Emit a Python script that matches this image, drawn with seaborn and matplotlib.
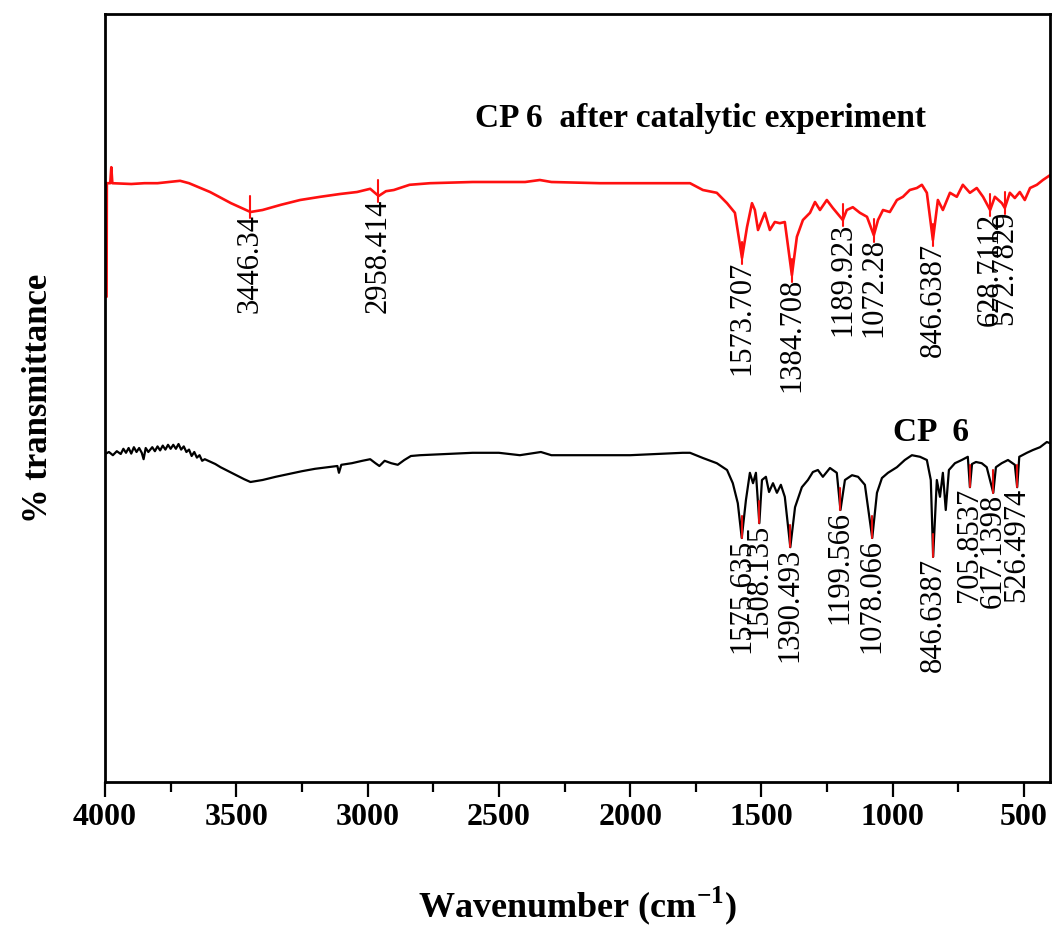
import numpy as np
import pandas as pd
import matplotlib
matplotlib.use("Agg")
import matplotlib.pyplot as plt
import seaborn as sns

# ---------------- data ----------------
red_wn = [3994, 3993, 3980, 3976, 3972, 3900, 3850, 3800, 3714, 3680, 3600, 3520, 3446, 3400,
          3330, 3257, 3180, 3105, 3040, 2990, 2958, 2930, 2900, 2877, 2840, 2762, 2600, 2400,
          2344, 2300, 2115, 1900, 1810, 1772, 1723, 1670, 1631, 1601, 1574, 1555, 1536, 1525,
          1513, 1498, 1487, 1468, 1449, 1430, 1411, 1384, 1365, 1342, 1315, 1296, 1277, 1251,
          1228, 1190, 1175, 1152, 1125, 1098, 1072, 1056, 1037, 1011, 984, 961, 935, 908, 889,
          870, 847, 828, 809, 782, 756, 733, 706, 680, 656, 629, 611, 584, 573, 554, 535, 516,
          497, 477, 451, 428, 401]
red_T = [62.9, 77.1, 77.1, 79.1, 77.1, 77.0, 77.1, 77.1, 77.4, 77.1, 76.0, 74.6, 73.5, 73.75,
         74.4, 75.0, 75.4, 75.75, 76.0, 76.4, 75.5, 76.1, 76.25, 76.5, 76.9, 77.1, 77.25, 77.25,
         77.5, 77.25, 77.1, 77.1, 77.1, 77.1, 76.25, 75.9, 74.6, 73.4, 67.75, 71.6, 74.6, 73.75,
         71.25, 72.5, 73.4, 71.25, 72.25, 72.1, 72.25, 65.6, 70.4, 72.5, 73.4, 74.75, 73.75, 75.0,
         74.0, 72.5, 73.75, 74.1, 73.4, 72.9, 70.6, 72.5, 73.75, 73.5, 75.0, 75.4, 76.25, 76.5, 76.9,
         75.9, 70.0, 75.0, 73.75, 75.9, 75.4, 76.9, 75.9, 76.5, 75.4, 73.75, 75.4, 74.6, 74.0, 75.9,
         75.25, 76.0, 75.0, 76.5, 76.9, 77.5, 78.1]

black_wn = [4000, 3985, 3970, 3955, 3940, 3930, 3920, 3910, 3900, 3890, 3880, 3870, 3860, 3853,
            3845, 3835, 3820, 3810, 3800, 3790, 3780, 3770, 3760, 3750, 3740, 3730,
            3720, 3710, 3700, 3690, 3680, 3670, 3660, 3650, 3640, 3630, 3620, 3600, 3580, 3560,
            3530, 3500, 3470, 3446, 3400,
            3350, 3300, 3250, 3200, 3150, 3115, 3109, 3100, 3060, 3020, 2990, 2970, 2955, 2935,
            2910, 2885, 2860, 2835, 2800, 2700, 2600, 2500, 2420, 2340, 2300, 2200, 2100, 2000,
            1900, 1800, 1772, 1723, 1670, 1631, 1609, 1590, 1575, 1559, 1544, 1532, 1521, 1508,
            1498, 1483, 1471, 1456, 1441, 1426, 1411, 1390, 1372, 1346, 1323, 1304, 1285, 1266,
            1239, 1213, 1199, 1182, 1155, 1132, 1106, 1078, 1060, 1041, 1018, 984, 954, 927, 896,
            870, 855, 846, 832, 820, 809, 798, 786, 763, 737, 714, 706, 698, 683, 661, 642, 617,
            607, 585, 561, 535, 526, 518, 489, 466, 439, 413, 401]
black_T = [43.25, 43.5, 43.1, 43.6, 43.25, 43.9, 43.4, 44.0, 43.3, 44.1, 43.5, 44.0, 43.4, 42.6,
           44.0, 43.5, 44.1, 43.6, 44.2, 43.7, 44.3, 43.8, 44.4, 43.9, 44.4, 43.9,
           44.5, 43.8, 44.2, 43.5, 43.8, 43.0, 43.5, 42.8, 43.1, 42.4, 42.6, 42.3, 42.0, 41.6,
           41.1, 40.6, 40.1, 39.75, 40.0,
           40.4, 40.75, 41.1, 41.4, 41.6, 41.75, 40.9, 41.9, 42.1, 42.4, 42.6, 42.1, 41.75, 42.4,
           42.1, 41.9, 42.5, 43.0, 43.1, 43.25, 43.4, 43.4, 43.1, 43.5, 43.1, 43.1, 43.1, 43.1,
           43.25, 43.4, 43.4, 42.75, 42.1, 41.25, 39.6, 37.1, 32.75, 37.5, 40.9, 39.6, 40.9, 34.6,
           40.0, 40.4, 38.5, 39.6, 38.4, 39.4, 37.9, 31.6, 36.6, 39.1, 40.0, 41.0, 41.25, 40.4,
           41.5, 40.9, 36.25, 40.0, 40.6, 40.4, 39.4, 32.75, 38.4, 40.25, 40.9, 41.6, 42.5, 43.1, 42.9,
           42.5, 40.0, 30.4, 40.0, 37.9, 40.9, 36.25, 41.25, 42.1, 42.5, 42.9, 39.1, 42.0, 42.25, 42.1, 41.6, 38.4,
           41.6, 42.1, 42.5, 41.9, 39.1, 42.9, 43.4, 43.75, 44.1, 44.75, 44.6]

red_peaks = [3446.34, 2958.414, 1573.707, 1384.708, 1189.923, 1072.28, 846.6387, 628.7112, 572.7829]
red_peak_T = [73.5, 75.5, 67.75, 65.6, 72.5, 70.6, 70.0, 73.75, 74.0]
red_peak_labels = ["3446.34", "2958.414", "1573.707", "1384.708", "1189.923", "1072.28",
                   "846.6387", "628.7112", "572.7829"]

black_peaks = [1575.635, 1508.135, 1390.493, 1199.566, 1078.066, 846.6387, 705.8537, 617.1398, 526.4974]
black_peak_T = [32.75, 34.6, 31.6, 36.25, 32.75, 30.4, 39.1, 38.4, 39.1]
black_peak_labels = ["1575.635", "1508.135", "1390.493", "1199.566", "1078.066", "846.6387",
                     "705.8537", "617.1398", "526.4974"]

x_ticks = [4000, 3500, 3000, 2500, 2000, 1500, 1000, 500]
x_minor = [3750, 3250, 2750, 2250, 1750, 1250, 750]

# ---------------- style ----------------
sns.set_theme(style="ticks")
plt.rcParams["font.family"] = ["Liberation Serif", "DejaVu Serif"]
plt.rcParams["mathtext.fontset"] = "custom"
plt.rcParams["mathtext.rm"] = "Liberation Serif"
plt.rcParams["mathtext.bf"] = "Liberation Serif:bold"
plt.rcParams["text.color"] = "black"
plt.rcParams["axes.labelcolor"] = "black"
plt.rcParams["xtick.color"] = "black"
plt.rcParams["ytick.color"] = "black"

fig = plt.figure(figsize=(10.56, 9.31), dpi=100)
ax = fig.add_axes([105 / 1056, 149 / 931, 945 / 1056, 768 / 931])

red_df = pd.DataFrame({"wn": red_wn, "T": red_T})
black_df = pd.DataFrame({"wn": black_wn, "T": black_T})

sns.lineplot(data=red_df, x="wn", y="T", ax=ax, color="#ff1010", linewidth=1.9,
             sort=False, estimator=None)
sns.lineplot(data=black_df, x="wn", y="T", ax=ax, color="black", linewidth=1.6,
             sort=False, estimator=None)

# peak markers and labels
for wn, t, lab in zip(red_peaks, red_peak_T, red_peak_labels):
    ax.plot([wn, wn], [t - 0.8, t + 2.0], color="#ff1010", lw=1.5)
    ax.text(wn, t - 0.3, lab, rotation=90, ha="center", va="top", fontsize=22, color="black")

for wn, t, lab in zip(black_peaks, black_peak_T, black_peak_labels):
    ax.plot([wn, wn], [t, t + 2.8], color="#e01010", lw=1.5)
    ax.text(wn, t - 0.1, lab, rotation=90, ha="center", va="top", fontsize=22, color="black")

ax.text(2591, 85.2, "CP 6  after catalytic experiment", fontsize=24, fontweight="bold",
        ha="left", va="center", color="black")
ax.text(999, 45.9, "CP  6", fontsize=24, fontweight="bold", ha="left", va="center", color="black")

ax.set_xlim(4000, 401)
ax.set_ylim(2.25, 98.25)
ax.set_xticks(x_ticks)
ax.set_xticks(x_minor, minor=True)
ax.set_xticklabels([str(v) for v in x_ticks], fontsize=23, fontweight="bold")
ax.set_yticks([])
ax.tick_params(axis="x", which="major", direction="out", length=11, width=1.6, pad=4, color="black")
ax.tick_params(axis="x", which="minor", direction="out", length=7, width=1.6, color="black")

for side in ["left", "right", "top", "bottom"]:
    ax.spines[side].set_visible(True)
    ax.spines[side].set_linewidth(2.0)
    ax.spines[side].set_color("black")

ax.set_xlabel(r"Wavenumber (cm$^{\mathbf{-1}}$)", fontsize=26, fontweight="bold", labelpad=38)
ax.set_ylabel("% transmittance", fontsize=25, fontweight="bold", labelpad=36)

fig.savefig("out.png", dpi=100)
